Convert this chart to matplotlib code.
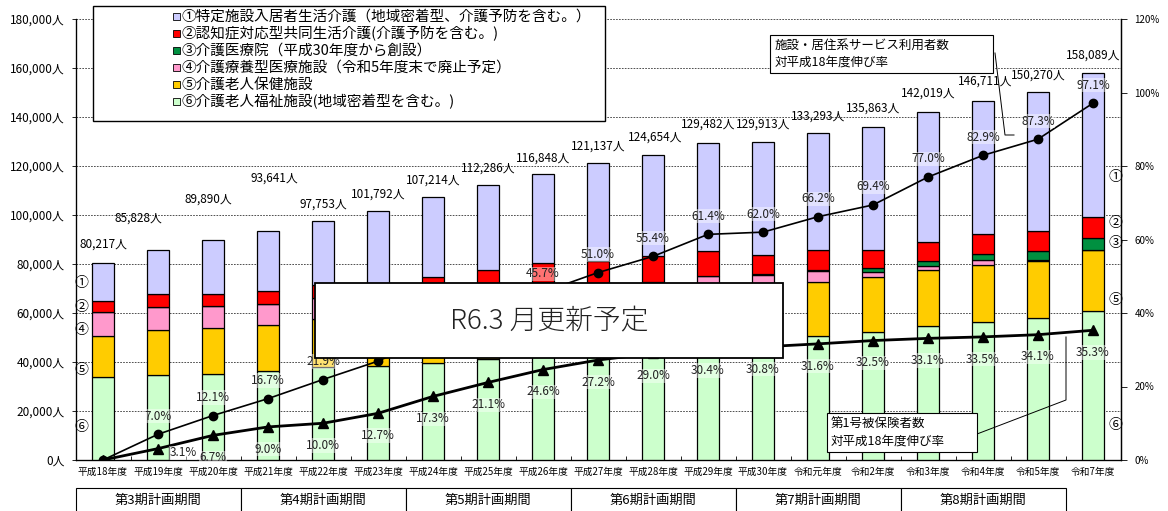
import numpy as np
import matplotlib
matplotlib.use("Agg")
import matplotlib.pyplot as plt
import matplotlib.transforms as mtransforms
from matplotlib.patches import Rectangle
from matplotlib.lines import Line2D
from matplotlib.ticker import FuncFormatter, MultipleLocator, FixedLocator

plt.rcParams['font.family'] = ['Noto Sans CJK JP', 'DejaVu Sans']

years = ['平成18年度', '平成19年度', '平成20年度', '平成21年度', '平成22年度', '平成23年度',
         '平成24年度', '平成25年度', '平成26年度', '平成27年度', '平成28年度', '平成29年度',
         '平成30年度', '令和元年度', '令和2年度', '令和3年度', '令和4年度', '令和5年度', '令和7年度']

# ⑥ 介護老人福祉施設
fukushi = [33755, 34570, 35100, 36450, 37830, 38370, 39710, 41300, 42850, 44400,
           45950, 47500, 49050, 50610, 52370, 54690, 56450, 57840, 60820]
# ⑤ 介護老人保健施設
roken = [16857, 18490, 18775, 18775, 19660, 19420, 20800, 21670, 22430, 21360,
         21400, 22240, 22000, 22160, 22200, 22860, 23140, 23510, 24900]
# ④ 介護療養型医療施設
ryoyo = [9673, 9265, 8980, 8327, 8500, 8300, 8300, 8000, 7500, 6500,
         5500, 5500, 4500, 4370, 2290, 1630, 2040, 400, 0]
# ③ 介護医療院
iryoin = [0, 0, 0, 0, 0, 0, 0, 0, 0, 0,
          0, 0, 240, 600, 1390, 2040, 2330, 3390, 4780]
# ② 認知症対応型共同生活介護
ninchi = [4735, 5306, 5020, 5430, 5306, 5500, 6000, 6500, 7500, 9000,
          10300, 10200, 7880, 7880, 7470, 7880, 8160, 8450, 8820]
# ① 特定施設入居者生活介護
tokutei = [15197, 18197, 22015, 24659, 26457, 30202, 32404, 34816, 36568, 39877,
           41504, 44042, 46243, 47673, 50143, 52919, 54591, 56680, 58769]

totals = [80217, 85828, 89890, 93641, 97753, 101792, 107214, 112286, 116848, 121137,
          124654, 129482, 129913, 133293, 135863, 142019, 146711, 150270, 158089]

rate_facility = [0, 7.0, 12.1, 16.7, 21.9, 26.9, 33.7, 40.0, 45.7, 51.0,
                 55.4, 61.4, 62.0, 66.2, 69.4, 77.0, 82.9, 87.3, 97.1]
rate_insured = [0, 3.1, 6.7, 9.0, 10.0, 12.7, 17.3, 21.1, 24.6, 27.2,
                29.0, 30.4, 30.8, 31.6, 32.5, 33.1, 33.5, 34.1, 35.3]

periods = ['第3期計画期間', '第4期計画期間', '第5期計画期間',
           '第6期計画期間', '第7期計画期間', '第8期計画期間']

legend_labels = ['①特定施設入居者生活介護（地域密着型、介護予防を含む。）',
                 '②認知症対応型共同生活介護(介護予防を含む。)',
                 '③介護医療院（平成30年度から創設）',
                 '④介護療養型医療施設（令和5年度末で廃止予定）',
                 '⑤介護老人保健施設',
                 '⑥介護老人福祉施設(地域密着型を含む。)']

c_toku, c_nin, c_iry, c_ryo, c_rok, c_fuk = '#CCCCFF', '#FF0000', '#009040', '#FF99CC', '#FFCC00', '#CCFFCC'

W, H = 1168, 511
fig = plt.figure(figsize=(W / 100, H / 100), dpi=100)
ax = fig.add_axes([75.5 / W, 1 - 460 / H, 1045 / W, 441 / H])

x = np.arange(len(years))
bw = 0.4
stack = [(fukushi, c_fuk), (roken, c_rok), (ryoyo, c_ryo), (iryoin, c_iry), (ninchi, c_nin), (tokutei, c_toku)]
bottom = np.zeros(len(x))
for vals, col in stack:
    v = np.array(vals, dtype=float)
    ax.bar(x, v, bw, bottom=bottom, color=col, edgecolor='black', linewidth=0.9, zorder=3)
    bottom += v

ax.set_xlim(-0.5, len(x) - 0.5)
ax.set_ylim(0, 180000)
ax.yaxis.set_major_locator(MultipleLocator(20000))
ax.yaxis.set_major_formatter(FuncFormatter(lambda v, p: f'{int(v):,}人'))
ax.grid(axis='y', color='#333333', linestyle=(0, (2, 1.5)), linewidth=0.6, zorder=0)
ax.set_axisbelow(True)
ax.set_xticks(x)
ax.set_xticklabels(years, fontsize=7)
ax.xaxis.set_minor_locator(FixedLocator(x[:-1] + 0.5))
ax.tick_params(axis='x', which='major', length=0, pad=5)
ax.tick_params(axis='x', which='minor', direction='in', length=3, width=0.6)
ax.tick_params(axis='y', labelsize=8.5, length=3, width=0.6, pad=5)
ax.spines['top'].set_visible(False)
for s in ['left', 'bottom', 'right']:
    ax.spines[s].set_linewidth(0.9)

# total labels
total_dx = [0, -20, -5, 6, 0, 0, 0, 0, 0, 0, 2, 0, 0, 0, 0, 0, 2, 0, 0]
total_dy = [19, 32, 41, 52, 16, 16, 17, 17, 16, 17, 17, 19, 18, 17, 19, 19, 19, 17, 18]
for i, t in enumerate(totals):
    ax.annotate(f'{t:,}人', (x[i], t), xytext=(total_dx[i] * 0.72, total_dy[i] * 0.72),
                textcoords='offset points', ha='center', va='center', fontsize=8.5, zorder=6)

# circled numbers beside first / last bar
left_marks = ['①', '②', '④', '⑤', '⑥']
left_y = [72245, 62450, 53060, 36735, 13470]
for m, yy in zip(left_marks, left_y):
    ax.text(-0.4, yy, m, ha='center', va='center', fontsize=10, zorder=6)
right_marks = ['①', '②', '③', '⑤', '⑥']
right_y = [115630, 96860, 88450, 65300, 14290]
for m, yy in zip(right_marks, right_y):
    ax.text(18.4, yy, m, ha='center', va='center', fontsize=10, zorder=6)

# growth-rate lines on right axis
ax2 = ax.twinx()
ax2.set_ylim(0, 120)
ax2.yaxis.set_major_locator(MultipleLocator(20))
ax2.yaxis.set_major_formatter(FuncFormatter(lambda v, p: f'{int(v)}%'))
ax2.tick_params(axis='y', labelsize=7, length=4, width=0.6, pad=6)
ax2.spines['top'].set_visible(False)
ax2.spines['right'].set_linewidth(0.9)
ax2.plot(x, rate_facility, color='black', lw=1.2, marker='o', ms=6, zorder=4)
ax2.plot(x, rate_insured, color='black', lw=2.0, marker='^', ms=6.5, zorder=4)

lbl_box = dict(boxstyle='square,pad=0.05', fc='white', ec='none', alpha=0.45)
for i in range(1, len(x)):
    ax2.annotate(f'{rate_facility[i]:.1f}%', (x[i], rate_facility[i]), xytext=(0, 13),
                 textcoords='offset points', ha='center', va='center', fontsize=8.5,
                 color='#222222', bbox=lbl_box, zorder=5)
    dx, dy = (18, -3) if i == 1 else (0, -16)
    ax2.annotate(f'{rate_insured[i]:.1f}%', (x[i], rate_insured[i]), xytext=(dx, dy),
                 textcoords='offset points', ha='center', va='center', fontsize=8.5,
                 color='#222222', bbox=lbl_box, zorder=5)

# "update planned" box over the middle
ax2.add_patch(Rectangle((0.229, 0.2306), 0.448, 0.170, transform=ax2.transAxes,
                        facecolor='white', edgecolor='black', linewidth=1.3, zorder=10))
ax2.text(0.453, 0.317, 'R6.3 月更新予定', transform=ax2.transAxes, ha='center', va='center',
         fontsize=20, fontweight='light', color='#222222', zorder=11)

# legend box
fx = lambda px: px / W
fy = lambda py: 1 - py / H
fig.patches.append(Rectangle((fx(93), fy(121)), fx(605) - fx(93), fy(6) - fy(121),
                             transform=fig.transFigure, facecolor='white', edgecolor='black',
                             linewidth=1.0, zorder=20))
leg_cols = [c_toku, c_nin, c_iry, c_ryo, c_rok, c_fuk]
for i, (lab, col) in enumerate(zip(legend_labels, leg_cols)):
    yy = 16.7 + 17 * i
    fig.patches.append(Rectangle((fx(172.5), fy(yy + 3.5)), fx(7), 7 / H, transform=fig.transFigure,
                                 facecolor=col, edgecolor='black', linewidth=0.6, zorder=21))
    fig.text(fx(181), fy(yy), lab, ha='left', va='center', fontsize=10.5, zorder=22)

# callouts
fig.patches.append(Rectangle((fx(770), fy(73.3)), fx(993) - fx(770), fy(35) - fy(73.3),
                             transform=fig.transFigure, facecolor='white', edgecolor='black',
                             linewidth=0.8, zorder=20))
fig.text(fx(775), fy(54), '施設・居住系サービス利用者数\n対平成18年度伸び率', ha='left', va='center',
         fontsize=9, linespacing=1.35, zorder=22)
fig.lines.append(Line2D([fx(995), fx(1005), fx(1014)], [fy(53), fy(135), fy(135)],
                        transform=fig.transFigure, color='black', lw=0.7, zorder=19))

fig.patches.append(Rectangle((fx(826.7), fy(451.7)), fx(976.7) - fx(826.7), fy(412.7) - fy(451.7),
                             transform=fig.transFigure, facecolor='white', edgecolor='black',
                             linewidth=0.8, zorder=20))
fig.text(fx(831), fy(433), '第1号被保険者数\n対平成18年度伸び率', ha='left', va='center',
         fontsize=9, linespacing=1.35, zorder=22)
fig.lines.append(Line2D([fx(977), fx(1066), fx(1066)], [fy(434), fy(400), fy(337)],
                        transform=fig.transFigure, color='black', lw=0.7, zorder=19))

# plan period boxes
trans = mtransforms.blended_transform_factory(ax.transData, fig.transFigure)
for k, p in enumerate(periods):
    x0 = -0.5 + 3 * k
    fig.patches.append(Rectangle((x0, fy(520)), 3, fy(488) - fy(520), transform=trans,
                                 facecolor='white', edgecolor='black', linewidth=0.8))
    fig.text(x0 + 1.5, fy(500), p, transform=trans, ha='center', va='center', fontsize=9.5)

fig.savefig('out.png', dpi=100)
